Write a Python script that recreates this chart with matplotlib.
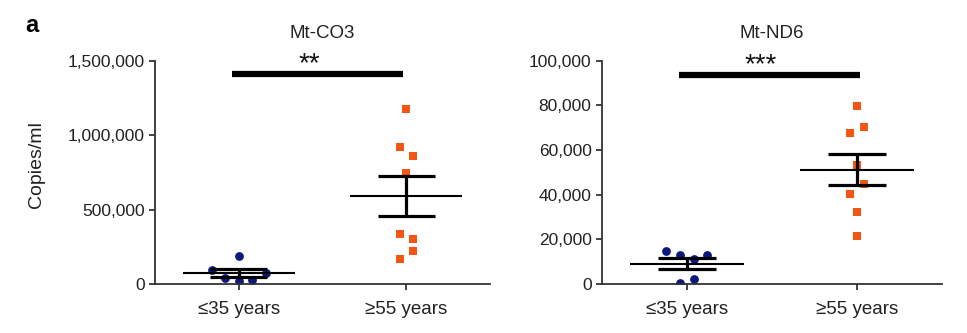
import numpy as np
import matplotlib
matplotlib.use("Agg")
import matplotlib.pyplot as plt

plt.rcParams['font.family'] = ['Liberation Sans', 'DejaVu Sans']

groups = ["\u226435 years", "\u226555 years"]

# Mt-CO3 copies/ml
co3_young = [190000, 94000, 76000, 38000, 22000, 27000]
co3_young_dx = [0.0, -0.16, 0.16, -0.08, 0.0, 0.08]
co3_old = [1175000, 923000, 861000, 745000, 336000, 300000, 224000, 166000]
co3_old_dx = [0.0, -0.04, 0.04, 0.0, -0.04, 0.04, 0.04, -0.04]

# Mt-ND6 copies/ml
nd6_young = [14800, 13000, 13000, 11200, 2100, 300]
nd6_young_dx = [-0.125, -0.04, 0.12, 0.04, 0.04, -0.04]
nd6_old = [79500, 70300, 67600, 53400, 44800, 40400, 32400, 21700]
nd6_old_dx = [0.0, 0.04, -0.04, 0.0, 0.04, -0.04, 0.0, 0.0]

BLUE = "#0d1a7d"
ORANGE = "#f25514"


def panel(ax, young, ydx, old, odx, title, ymax, ystep, stars, bar_y, bar_x):
    for i, (vals, dx) in enumerate([(young, ydx), (old, odx)]):
        x = i + 1
        vals = np.array(vals, dtype=float)
        xs = x + np.array(dx)
        if i == 0:
            ax.scatter(xs, vals, s=40, marker='o', color=BLUE, zorder=2, linewidths=0)
        else:
            ax.scatter(xs, vals, s=36, marker='s', color=ORANGE, zorder=2, linewidths=0)
        m = vals.mean()
        sem = vals.std(ddof=1) / np.sqrt(len(vals))
        ax.hlines(m, x - 0.335, x + 0.335, color='black', lw=1.5, zorder=3)
        ax.hlines([m - sem, m + sem], x - 0.17, x + 0.17, color='black', lw=2.3, zorder=3)
        ax.vlines(x, m - sem, m + sem, color='black', lw=2.3, zorder=3)

    ax.plot(bar_x, [bar_y, bar_y], color='black', lw=4.5, solid_capstyle='butt', clip_on=False)
    # asterisks sit high in the glyph box, so anchor on the bottom close to the bar
    ax.text(np.mean(bar_x) - 0.05, bar_y - ymax * 0.015, stars, ha='center', va='bottom',
            fontsize=20, color='#111111', clip_on=False)

    ax.set_xlim(0.5, 2.5)
    ax.set_ylim(0, ymax)
    ax.set_yticks(np.arange(0, ymax + 1, ystep))
    ax.yaxis.set_major_formatter(matplotlib.ticker.StrMethodFormatter('{x:,.0f}'))
    ax.set_xticks([1, 2])
    ax.set_xticklabels(groups, fontsize=13.5)
    ax.tick_params(axis='y', labelsize=12.5, width=1.2, length=4, colors='#222222')
    ax.tick_params(axis='x', width=1.2, length=4, pad=8, colors='#222222')
    for s in ['top', 'right']:
        ax.spines[s].set_visible(False)
    for s in ['left', 'bottom']:
        ax.spines[s].set_linewidth(1.3)
        ax.spines[s].set_color('#333333')
    ax.set_title(title, fontsize=13.5, pad=16, color='#222222')


fig = plt.figure(figsize=(9.67, 3.33), dpi=100)
ax1 = fig.add_axes([155 / 967, 1 - 284 / 333, (490 - 155) / 967, (284 - 60.7) / 333])
ax2 = fig.add_axes([602 / 967, 1 - 284 / 333, (942 - 602) / 967, (284 - 60.7) / 333])

panel(ax1, co3_young, co3_young_dx, co3_old, co3_old_dx, "Mt-CO3", 1500000, 500000,
      "**", 1410000, [0.96, 1.98])
panel(ax2, nd6_young, nd6_young_dx, nd6_old, nd6_old_dx, "Mt-ND6", 100000, 20000,
      "***", 93700, [0.95, 2.02])

ax1.set_ylabel("Copies/ml", fontsize=14, color='#222222')
ax1.yaxis.set_label_coords(-0.327, 0.535)
fig.text(25 / 967, 1 - 26 / 333, "a", fontsize=17, fontweight='bold', va='center', ha='left')

fig.savefig("out.png", dpi=100)
